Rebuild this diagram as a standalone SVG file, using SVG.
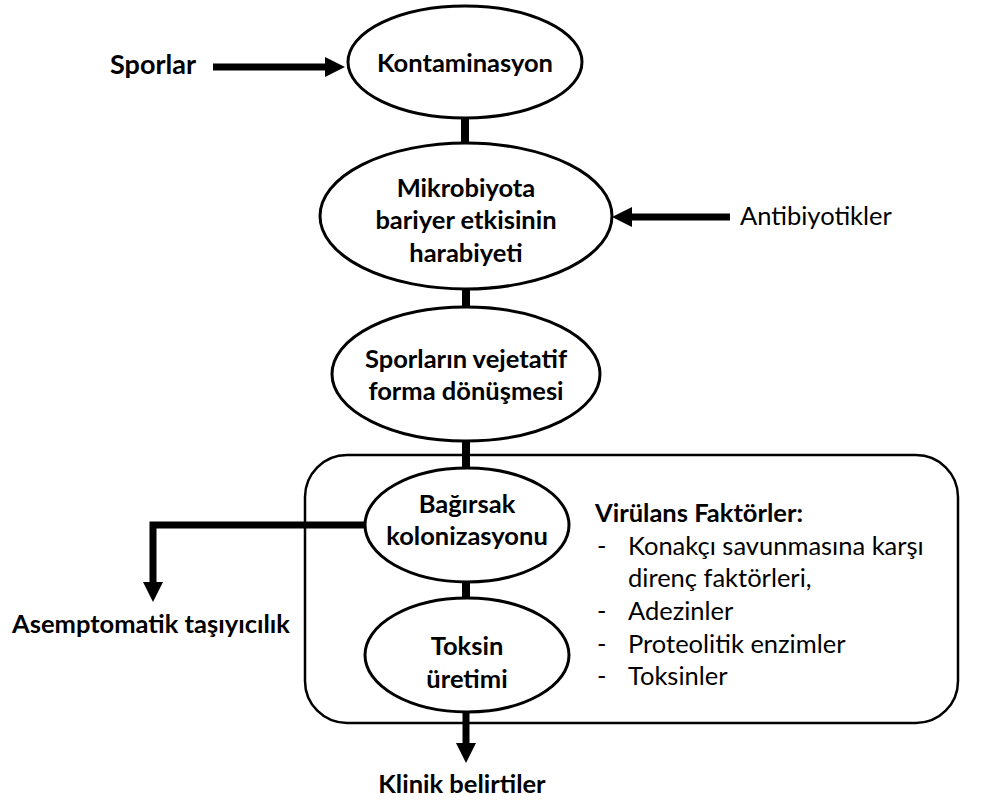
<svg xmlns="http://www.w3.org/2000/svg" width="988" height="802" viewBox="0 0 988 802">
<style>
.n{fill:#fff;stroke:#000;stroke-width:3}
.t{font-family:Lato,"Open Sans","Liberation Sans",sans-serif;font-size:25.5px;fill:#000}
.b{font-weight:bold}
.c{text-anchor:middle}
.w{stroke:#000;stroke-width:7;fill:none}
.v{stroke:#000;stroke-width:8;fill:none}
</style>
<defs>
<marker id="ah" markerWidth="20" markerHeight="20" refX="0" refY="10" orient="auto" markerUnits="userSpaceOnUse"><path d="M0,0 L20,10 L0,20 Z" fill="#000"/></marker>
</defs>
<rect id="box" x="305" y="455" width="653" height="268" rx="42" fill="none" stroke="#000" stroke-width="2.5"/>
<g id="connectors">
<line class="v" x1="465" y1="115" x2="465" y2="145"/>
<line class="v" x1="466" y1="287" x2="466" y2="310"/>
<line class="v" x1="466" y1="438" x2="466" y2="470"/>
<line class="v" x1="466" y1="580" x2="466" y2="600"/>
<line class="w" x1="213" y1="67" x2="325" y2="67" marker-end="url(#ah)"/>
<line class="w" x1="730" y1="217" x2="632" y2="217" marker-end="url(#ah)"/>
<polyline class="w" points="366,525 153,525 153,582" marker-end="url(#ah)"/>
<line class="w" x1="466" y1="711" x2="466" y2="743" marker-end="url(#ah)"/>
</g>
<g id="kontaminasyon"><ellipse class="n" cx="465" cy="62" rx="117" ry="56"/><text class="t b c" x="465" y="72">Kontaminasyon</text></g>
<g id="mikrobiyota"><ellipse class="n" cx="466" cy="216" rx="146" ry="73"/><text class="t b c" x="466" y="197">Mikrobiyota</text><text class="t b c" x="466" y="229">bariyer etkisinin</text><text class="t b c" x="466" y="262">harabiyeti</text></g>
<g id="sporlarin"><ellipse class="n" cx="466" cy="374" rx="134" ry="67"/><text class="t b c" x="466" y="368">Sporların vejetatif</text><text class="t b c" x="466" y="400">forma dönüşmesi</text></g>
<g id="bagirsak"><ellipse class="n" cx="467" cy="525" rx="102" ry="57"/><text class="t b c" x="467" y="513">Bağırsak</text><text class="t b c" x="467" y="545">kolonizasyonu</text></g>
<g id="toksin"><ellipse class="n" cx="467" cy="655" rx="102" ry="57"/><text class="t b c" x="467" y="655">Toksin</text><text class="t b c" x="467" y="688">üretimi</text></g>
<g id="sporlar"><text class="t b" x="110" y="74" style="font-size:27px">Sporlar</text></g>
<g id="antibiyotikler"><text class="t" x="740" y="225">Antibiyotikler</text></g>
<g id="asemptomatik"><text class="t b" x="12" y="633">Asemptomatik taşıyıcılık</text></g>
<g id="klinik"><text class="t b c" x="462" y="793">Klinik belirtiler</text></g>
<g id="virulans">
<text class="t b" x="595" y="522">Virülans Faktörler:</text>
<text class="t" x="597" y="555">-</text><text class="t" x="628" y="555">Konakçı savunmasına karşı</text>
<text class="t" x="628" y="587">direnç faktörleri,</text>
<text class="t" x="597" y="620">-</text><text class="t" x="628" y="620">Adezinler</text>
<text class="t" x="597" y="653">-</text><text class="t" x="628" y="653">Proteolitik enzimler</text>
<text class="t" x="597" y="685">-</text><text class="t" x="628" y="685">Toksinler</text>
</g>
</svg>
